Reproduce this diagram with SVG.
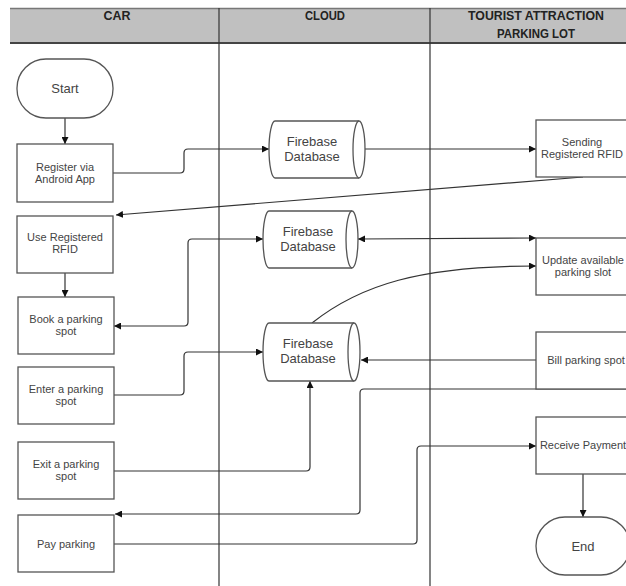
<svg xmlns="http://www.w3.org/2000/svg" width="626" height="586" viewBox="0 0 626 586">
<defs>
<style>
.box{fill:#fff;stroke:#555;stroke-width:1.3}
.t{font-family:"Liberation Sans",Arial,sans-serif;font-size:11px;fill:#444;text-anchor:middle}
.tl{font-family:"Liberation Sans",Arial,sans-serif;font-size:13px;fill:#444;text-anchor:middle}
.h{font-family:"Liberation Sans",Arial,sans-serif;font-size:12px;font-weight:bold;fill:#222;text-anchor:middle}
.c{fill:none;stroke:#333;stroke-width:1.2}
.lane{stroke:#333;stroke-width:1.2}
</style>
<marker id="a" viewBox="0 0 10 10" refX="10" refY="5" markerWidth="7" markerHeight="7" markerUnits="userSpaceOnUse" orient="auto-start-reverse">
<path d="M0,0 L10,5 L0,10 Z" fill="#111"/>
</marker>
</defs>
<rect width="626" height="586" fill="#fff"/>
<g id="lanes">
<rect x="10" y="8" width="620" height="35" fill="#c0c0c0"/>
<line x1="10" y1="8.5" x2="626" y2="8.5" stroke="#777" stroke-width="1.5"/>
<line x1="10" y1="43" x2="626" y2="43" stroke="#444" stroke-width="2"/>
<line class="lane" x1="219" y1="8" x2="219" y2="586"/>
<line class="lane" x1="430" y1="8" x2="430" y2="586"/>
<text class="h" x="117" y="20" textLength="27" lengthAdjust="spacingAndGlyphs">CAR</text>
<text class="h" x="325" y="20" textLength="40" lengthAdjust="spacingAndGlyphs">CLOUD</text>
<text class="h" x="536" y="20" textLength="136" lengthAdjust="spacingAndGlyphs">TOURIST ATTRACTION</text>
<text class="h" x="536" y="38" textLength="78" lengthAdjust="spacingAndGlyphs">PARKING LOT</text>
</g>
<g id="connectors">
<path class="c" d="M65,118 V144" marker-end="url(#a)"/>
<path class="c" d="M65,273 V297" marker-end="url(#a)"/>
<path class="c" d="M113,173 H180 Q184,173 184,169 V153 Q184,149 188,149 H269" marker-end="url(#a)"/>
<path class="c" d="M365,149 H536" marker-end="url(#a)"/>
<path class="c" d="M583,177 Q350,195 116,215" marker-end="url(#a)"/>
<path class="c" d="M114,326 H184 Q188,326 188,322 V243 Q188,239 192,239 H263" marker-start="url(#a)" marker-end="url(#a)"/>
<path class="c" d="M358,239 L536,238" marker-start="url(#a)" marker-end="url(#a)"/>
<path class="c" d="M312,323 C360,285 420,266 536,266" marker-end="url(#a)"/>
<path class="c" d="M114,395 H180 Q184,395 184,391 V356 Q184,352 188,352 H263" marker-end="url(#a)"/>
<path class="c" d="M536,360 H361" marker-end="url(#a)"/>
<path class="c" d="M114,471 H306 Q310,471 310,467 V381" marker-end="url(#a)"/>
<path class="c" d="M626,389 H364 Q360,389 360,393 V510 Q360,514 356,514 H115" marker-end="url(#a)"/>
<path class="c" d="M114,544 H413 Q417,544 417,540 V450 Q417,446 421,446 H536" marker-end="url(#a)"/>
<path class="c" d="M583,474 V517" marker-end="url(#a)"/>
</g>
<g id="start">
<rect class="box" x="17" y="59" width="96" height="59" rx="29" ry="29"/>
<text class="tl" x="65" y="93">Start</text>
</g>
<g id="register">
<rect class="box" x="17" y="144" width="96" height="58"/>
<text class="t" x="65" y="171">Register via</text>
<text class="t" x="65" y="183">Android App</text>
</g>
<g id="use-rfid">
<rect class="box" x="17" y="216" width="96" height="57"/>
<text class="t" x="65" y="241">Use Registered</text>
<text class="t" x="65" y="253">RFID</text>
</g>
<g id="book">
<rect class="box" x="18" y="297" width="96" height="57"/>
<text class="t" x="66" y="323">Book a parking</text>
<text class="t" x="66" y="335">spot</text>
</g>
<g id="enter">
<rect class="box" x="18" y="367" width="96" height="57"/>
<text class="t" x="66" y="393">Enter a parking</text>
<text class="t" x="66" y="405">spot</text>
</g>
<g id="exit">
<rect class="box" x="18" y="442" width="96" height="57"/>
<text class="t" x="66" y="468">Exit a parking</text>
<text class="t" x="66" y="480">spot</text>
</g>
<g id="pay">
<rect class="box" x="18" y="515" width="96" height="57"/>
<text class="t" x="66" y="548">Pay parking</text>
</g>
<g id="firebase1">
<path class="box" d="M275,121 H359 A6,28.5 0 0 1 359,178 H275 A6,28.5 0 0 1 275,121 Z"/>
<path class="box" fill="none" d="M359,121 A6,28.5 0 0 0 359,178"/>
<text class="tl" x="312" y="146">Firebase</text>
<text class="tl" x="312" y="161">Database</text>
</g>
<g id="firebase2">
<path class="box" d="M269,211 H352 A6,28.5 0 0 1 352,268 H269 A6,28.5 0 0 1 269,211 Z"/>
<path class="box" fill="none" d="M352,211 A6,28.5 0 0 0 352,268"/>
<text class="tl" x="308" y="236">Firebase</text>
<text class="tl" x="308" y="251">Database</text>
</g>
<g id="firebase3">
<path class="box" d="M269,323 H354 A6,29 0 0 1 354,381 H269 A6,29 0 0 1 269,323 Z"/>
<path class="box" fill="none" d="M354,323 A6,29 0 0 0 354,381"/>
<text class="tl" x="308" y="348">Firebase</text>
<text class="tl" x="308" y="363">Database</text>
</g>
<g id="sending">
<rect class="box" x="536" y="120" width="100" height="57"/>
<text class="t" x="582" y="146">Sending</text>
<text class="t" x="582" y="158">Registered RFID</text>
</g>
<g id="update">
<rect class="box" x="536" y="238" width="100" height="57"/>
<text class="t" x="583" y="264">Update available</text>
<text class="t" x="583" y="276">parking slot</text>
</g>
<g id="bill">
<rect class="box" x="536" y="332" width="100" height="57"/>
<text class="t" x="586" y="364">Bill parking spot</text>
</g>
<g id="receive">
<rect class="box" x="536" y="417" width="100" height="57"/>
<text class="t" x="583" y="449">Receive Payment</text>
</g>
<g id="end">
<rect class="box" x="536" y="517" width="94" height="58" rx="29" ry="29"/>
<text class="tl" x="583" y="551">End</text>
</g>
</svg>
